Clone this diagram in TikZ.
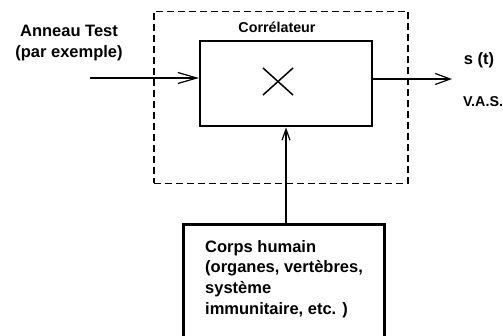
\documentclass[tikz,border=0pt]{standalone}
\usepackage{fontspec}
\setmainfont{Liberation Sans}
\usetikzlibrary{arrows.meta}
\begin{document}
\begin{tikzpicture}[x=1pt,y=-1pt,
  big/.style={font=\fontsize{16.5}{20.8}\selectfont\bfseries},
  small/.style={font=\fontsize{14.3}{16}\selectfont\bfseries},
  conn/.style={line width=1.2pt},
  barb/.style={-{Straight Barb[length=#1,width=11pt,line width=1.2pt]}}]
\useasboundingbox (0,0) rectangle (503,336);
% dashed correlator frame
\node[draw,dash pattern=on 7pt off 4pt,line width=1.3pt,minimum width=254pt,minimum height=172pt,inner sep=0pt] (frame) at (281,97.5) {};
\node[small,anchor=center] (corr) at (277,27) {Corrélateur};
% inner box
\node[draw,line width=2pt,minimum width=172pt,minimum height=85pt,inner sep=0pt] (mult) at (286,84) {};
\coordinate (xa) at (263,68);
\coordinate (xb) at (293,95);
\coordinate (xc) at (263,95);
\coordinate (xd) at (293,68);
\draw[line width=1.5pt] (xa) -- (xb);
\draw[line width=1.5pt] (xc) -- (xd);
% input label
\node[big,align=center,inner sep=0pt] (ring) at (69,43) {Anneau Test\\(par exemple)};
\coordinate (inL) at (90,78);
\draw[conn,barb=19pt] (inL) -- (inL -| mult.west);
% output
\coordinate (outR) at (452,79);
\draw[conn,barb=15pt] (mult.east |- outR) -- (outR);
\node[big,inner sep=0pt] (st) at (479,60) {s (t)};
\node[small,inner sep=0pt] (vas) at (483,102) {V.A.S.};
% body box
\node[draw,line width=3pt,minimum width=201pt,minimum height=130pt,inner sep=0pt,anchor=north west] (body) at (182,223) {};
\node[big,align=left,anchor=north west,inner sep=0pt] (bodytxt) at (205,240) {Corps humain\\(organes, vertèbres,\\système\\immunitaire, etc. )};
\coordinate (up) at (286,0);
\draw[conn,-{Straight Barb[length=11pt,width=8pt,line width=1.2pt]}] (body.north -| up) -- (mult.south -| up);
\end{tikzpicture}
\end{document}
